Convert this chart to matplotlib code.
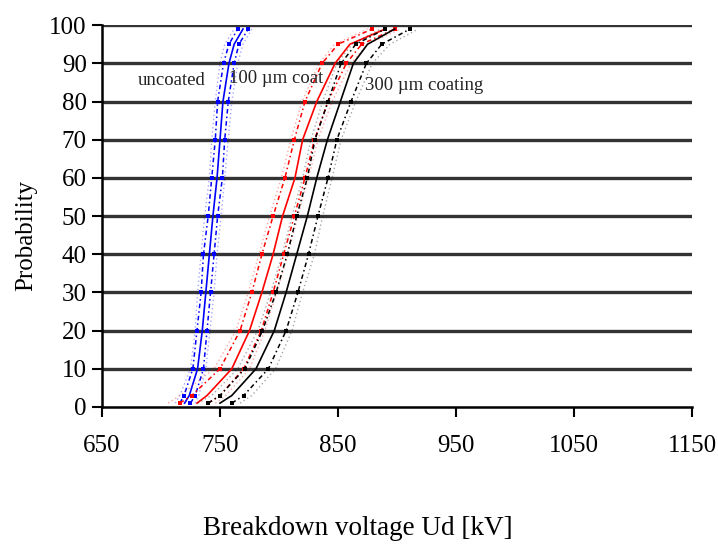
import matplotlib
matplotlib.use("Agg")
import matplotlib.pyplot as plt

# Probability levels (%) at which each curve was read
prob = [1, 3, 10, 20, 30, 40, 50, 60, 70, 80, 90, 95, 99]

# Uncoated (blue) breakdown voltages, kV
blue_center = [720, 724, 731, 735, 738, 741, 744, 747.5, 750, 752.5, 757.6, 762, 769.5]
blue_low    = [716, 719.5, 727, 730.5, 734, 736, 740, 743, 746, 748, 753, 757.6, 765]
blue_low2   = [712, 716, 725, 729, 731, 734, 737, 741, 743, 746, 750, 754, 762]
blue_up     = [725, 729, 736, 739, 742, 745, 748, 752, 754, 757, 762, 766, 774]
blue_up2    = [729, 732, 738, 741.5, 745, 747.5, 751, 754, 757, 760, 765, 769.5, 777]

# 100 um coat (red)
red_center = [730.5, 739, 760, 775, 785.5, 795, 803, 813.5, 820, 832, 847.5, 860, 890]
red_low    = [716, 726, 750, 767, 777, 785.5, 795, 805, 813, 822, 836.5, 850, 879]
red_low2   = [706, 716, 745, 763.5, 774, 783, 792, 802, 810, 819.5, 834, 847, 875]
red_up     = [740, 750, 770, 785, 795, 804, 813, 822, 830, 841.5, 857, 870, 898]
red_up2    = [746, 755, 775, 788, 798, 807.6, 816, 825, 833, 845, 861, 875, 903]

# 300 um coating (black)
blk_center = [750, 760, 780.5, 796, 806, 815, 824, 832, 841, 852, 863, 875, 898]
blk_low    = [740, 750, 771, 786, 797.5, 807, 815, 824, 830.5, 841.5, 852.6, 865, 890]
blk_low2   = [731, 743, 765, 782, 793, 802.6, 811, 820, 827, 837, 849, 862, 886]
blk_up     = [760, 770, 791, 806, 816, 825, 833, 841.5, 849, 861, 874, 887, 911]
blk_up2    = [767, 777, 797, 811, 820, 830, 837, 845, 852.6, 865, 879, 894, 918]

x_ticks = [650, 750, 850, 950, 1050, 1150]
y_ticks = [0, 10, 20, 30, 40, 50, 60, 70, 80, 90, 100]

labels = ["uncoated", "100 \u00b5m coat", "300 \u00b5m coating"]
label_x = [680, 758, 873]
label_y = [85.5, 86, 84.3]

plt.rcParams['font.family'] = ['Liberation Serif', 'DejaVu Serif']

fig = plt.figure(figsize=(7.18, 5.47), dpi=100)
ax = fig.add_axes([0.142, 0.256, 0.822, 0.698])

# horizontal grid lines
for yv in y_ticks[1:]:
    ax.axhline(yv, color='#333333', lw=2.4, zorder=1)

groups = [
    ('#0000ff', blue_center, blue_low, blue_low2, blue_up, blue_up2),
    ('#ff0000', red_center, red_low, red_low2, red_up, red_up2),
    ('#000000', blk_center, blk_low, blk_low2, blk_up, blk_up2),
]
for color, c, lo, lo2, up, up2 in groups:
    ax.plot(c, prob, color=color, lw=1.2, zorder=3)
    for arr in (lo2, up2):
        ax.plot(arr, prob, color=color, lw=1.0, ls=(0, (1, 2)), alpha=0.35, zorder=3)
    for arr in (lo, up):
        ax.plot(arr, prob, color=color, lw=1.1, ls=(0, (3, 2, 1, 2)),
                marker='s', ms=2.8, mew=0, zorder=3)

for t, xv, yv in zip(labels, label_x, label_y):
    ax.text(xv, yv, t, fontsize=13.5, va='center', ha='left', color='#222222', zorder=4)

ax.set_xlim(650, 1150)
ax.set_ylim(0, 100)
ax.set_xticks(x_ticks)
ax.set_yticks(y_ticks)
ax.tick_params(axis='both', labelsize=18, width=1.5, length=7, color='black')
ax.tick_params(axis='x', pad=13)
ax.tick_params(axis='y', pad=4)
for s in ('top', 'right'):
    ax.spines[s].set_visible(False)
for s in ('left', 'bottom'):
    ax.spines[s].set_linewidth(1.8)
    ax.spines[s].set_color('black')

ax.set_xlabel('Breakdown voltage Ud [kV]', fontsize=19.5)
ax.xaxis.set_label_coords(0.434, -0.285)
ax.set_ylabel('Probability', fontsize=18)
ax.yaxis.set_label_coords(-0.11, 0.45)

fig.savefig('out.png', dpi=100)
